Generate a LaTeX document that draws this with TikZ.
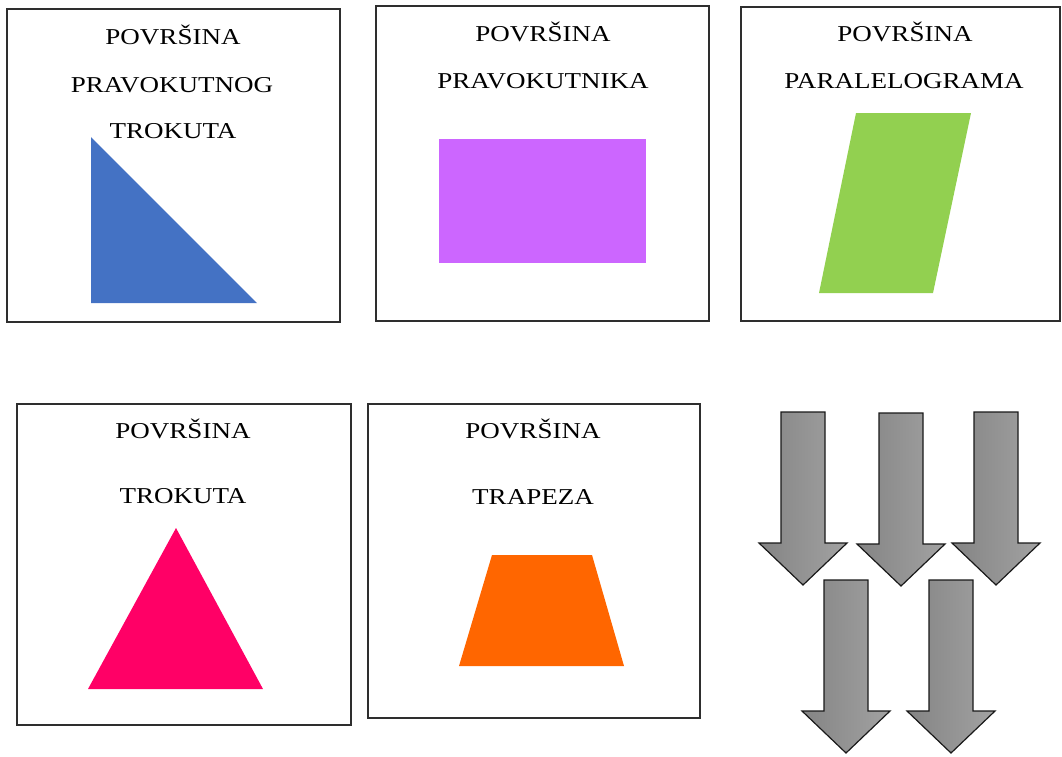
\documentclass[tikz,border=0pt]{standalone}
\usepackage{fontspec}
\setmainfont{Liberation Serif}[FakeStretch=1.19]
\definecolor{framegray}{HTML}{2E2E2E}
\definecolor{triblue}{HTML}{4472C4}
\definecolor{rectviolet}{HTML}{CC66FF}
\definecolor{paragreen}{HTML}{92D050}
\definecolor{tripink}{HTML}{FF0066}
\definecolor{traporange}{HTML}{FF6600}
\definecolor{arrowdark}{HTML}{848484}
\definecolor{arrowlight}{HTML}{A2A2A2}
\tikzset{
  card/.style={draw=framegray, line width=1.3pt},
  cardtext/.style={font=\fontsize{22.7}{27}\selectfont, text=black, anchor=base, inner sep=0pt},
  grayarrow/.style={draw=black!90, line width=1.2pt, left color=arrowdark, right color=arrowlight, line join=miter},
}

\begin{document}
\begin{tikzpicture}[x=1pt, y=-1pt]
\useasboundingbox (0,0) rectangle (1062,756);

% Right triangle card
\draw[card] (7,9) rectangle (340,322);
\node[cardtext] (rtTitleA) at (173,44) {POVRŠINA};
\node[cardtext] (rtTitleB) at (172,92) {PRAVOKUTNOG};
\node[cardtext] (rtTitleC) at (173,138) {TROKUTA};
\fill[triblue] (91,137) -- (91,303) -- (257,303) -- cycle;

% Rectangle card
\draw[card] (376,6) rectangle (709,321);
\node[cardtext] (reTitleA) at (543,41) {POVRŠINA};
\node[cardtext] (reTitleB) at (543,88) {PRAVOKUTNIKA};
\fill[rectviolet] (439,139) rectangle (646,263);

% Parallelogram card
\draw[card] (741,7) rectangle (1060,321);
\node[cardtext] (paTitleA) at (905,41) {POVRŠINA};
\node[cardtext] (paTitleB) at (904,88) {PARALELOGRAMA};
\fill[paragreen] (856,113) -- (971,113) -- (933,293) -- (819,293) -- cycle;

% Triangle card
\draw[card] (17,404) rectangle (351,725);
\node[cardtext] (trTitleA) at (183,438) {POVRŠINA};
\node[cardtext] (trTitleB) at (183,503) {TROKUTA};
\fill[tripink] (176,528) -- (263,689) -- (88,689) -- cycle;

% Trapezoid card
\draw[card] (368,404) rectangle (700,718);
\node[cardtext] (tzTitleA) at (533,438) {POVRŠINA};
\node[cardtext] (tzTitleB) at (533,504) {TRAPEZA};
\fill[traporange] (492,555) -- (592,555) -- (624,666) -- (459,666) -- cycle;

% Gray arrows
\foreach \cx/\ty in {803/412, 901/413, 996/412, 846/580, 951/580}{
  \draw[grayarrow] (\cx-22,\ty) -- (\cx+22,\ty) -- (\cx+22,\ty+131)
    -- (\cx+44,\ty+131) -- (\cx,\ty+173) -- (\cx-44,\ty+131)
    -- (\cx-22,\ty+131) -- cycle;
}

\end{tikzpicture}
\end{document}
